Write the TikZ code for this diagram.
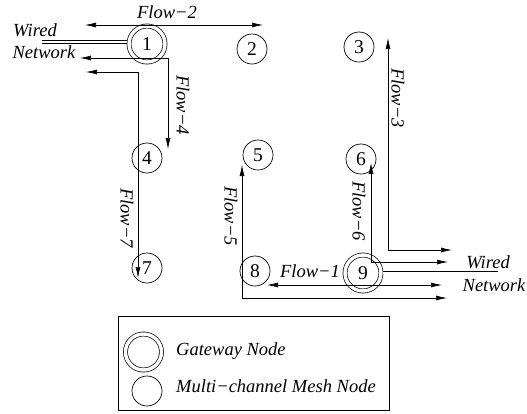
\documentclass[tikz,border=0pt]{standalone}
\usepackage{fontspec}
\setmainfont{Liberation Serif}
\usetikzlibrary{positioning, arrows.meta}

\begin{document}
\begin{tikzpicture}[
        x=1pt, y=-1pt,
        >={Latex[length=11pt,width=5pt]},
        mesh/.style={circle, draw, line width=0.7pt, minimum size=30pt, inner sep=0pt, font=\fontsize{19.5}{23}\selectfont},
        gateway/.style={mesh, double, double distance=3.4pt, minimum size=36pt},
        flow/.style={<->, line width=0.65pt},
        wire/.style={draw, line width=0.65pt, double, double distance=2pt},
        flowlabel/.style={font=\fontsize{18.5}{22}\selectfont\itshape, inner sep=0pt},
        vflowlabel/.style={flowlabel, rotate=-90},
        keybox/.style={draw, line width=0.8pt, minimum width=271pt, minimum height=94pt, inner sep=0pt},
    ]
    \useasboundingbox (0,0) rectangle (527,413);

    % === MESH NODES ===
    \node[gateway] (n1) at (147,44) {1};
    \node[mesh] (n2) at (252,49) {2};
    \node[mesh] (n3) at (359,47) {3};
    \node[mesh] (n4) at (147,158) {4};
    \node[mesh] (n5) at (258,155) {5};
    \node[mesh] (n6) at (361,159) {6};
    \node[mesh] (n7) at (147,268) {7};
    \node[mesh] (n8) at (255,271) {8};
    \node[gateway] (n9) at (363,273) {9};

    % === WIRED NETWORK ===
    \coordinate (wireL) at (42,42);
    \coordinate (wireR) at (498,272.5);
    \draw[wire, shorten >=2pt] (wireL) -- (wireL -| n1.west);
    \draw[wire, shorten <=2pt] (wireR -| n9.east) -- (wireR);
    \node[flowlabel] (wiredL) at (35,30) {Wired};
    \node[flowlabel] (netL) at (44,52) {Network};
    \node[flowlabel] (wiredR) at (488,262) {Wired};
    \node[flowlabel] (netR) at (494,285) {Network};

    % Flow end points
    \coordinate (f2a) at (85,25);
    \coordinate (f2b) at (263,25);
    \coordinate (f4a) at (80,58);
    \coordinate (f4b) at (168,149);
    \coordinate (f7a) at (86,72);
    \coordinate (f7b) at (138,278);
    \coordinate (f3a) at (452,250);
    \coordinate (f3b) at (388,38);
    \coordinate (f6a) at (448,262);
    \coordinate (f6b) at (371,163);
    \coordinate (f5a) at (447,298);
    \coordinate (f5b) at (242,165);
    \coordinate (f1a) at (267,285);
    \coordinate (f1b) at (442,285);

    % === FLOWS ===
    \draw[flow] (f2a) -- (f2b);
    \draw[flow] (f4a) -| (f4b);
    \draw[flow] (f7a) -| (f7b);
    \draw[flow] (f3a) -| (f3b);
    \draw[flow] (f6a) -| (f6b);
    \draw[flow] (f5a) -| (f5b);
    \draw[flow] (f1a) -- (f1b);

    % Flow labels
    \node[flowlabel] (l2) at (167,12) {Flow−2};
    \node[flowlabel] (l1) at (310,271) {Flow−1};
    \node[vflowlabel] (l4) at (183,105) {Flow−4};
    \node[vflowlabel] (l7) at (127,218) {Flow−7};
    \node[vflowlabel] (l5) at (231,216) {Flow−5};
    \node[vflowlabel] (l6) at (359,211) {Flow−6};
    \node[vflowlabel] (l3) at (398,98) {Flow−3};

    % === LEGEND ===
    \node[keybox] (legend) at (253.5,363) {};
    \node[gateway] (gwkey) at (143.5,352) {};
    \node[mesh] (meshkey) at (147,391) {};
    \node[flowlabel, anchor=west] (gwtext) at (176,351) {Gateway Node};
    \node[flowlabel, anchor=west] (meshtext) at (176,386) {Multi−channel Mesh Node};

\end{tikzpicture}
\end{document}
